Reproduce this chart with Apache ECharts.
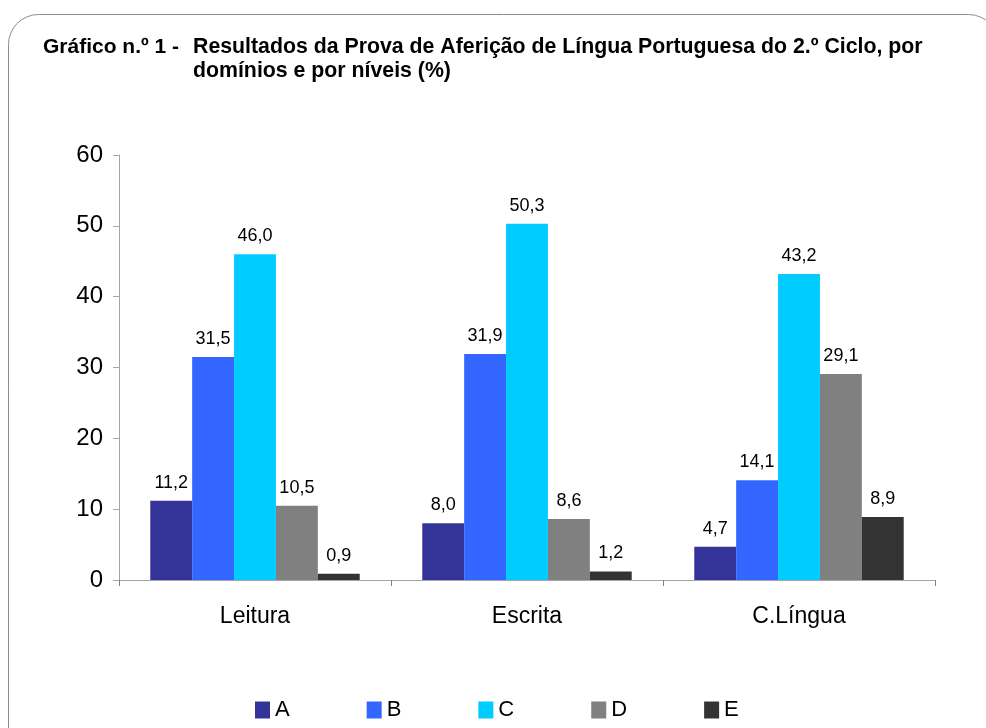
<!DOCTYPE html>
<html>
<head>
<meta charset="utf-8">
<script src="https://cdn.jsdelivr.net/npm/echarts@6/dist/echarts.min.js"></script>
<style>
  html, body { margin: 0; padding: 0; background: #fff; }
  #container1 { width: 986px; height: 728px; }
</style>
</head>
<body>
<div id="container1"></div>
<script>
var categories = ['Leitura', 'Escrita', 'C.Língua'];
var levels = ['A', 'B', 'C', 'D', 'E'];
var valuesA = [11.2, 8.0, 4.7];
var valuesB = [31.5, 31.9, 14.1];
var valuesC = [46.0, 50.3, 43.2];
var valuesD = [10.5, 8.6, 29.1];
var valuesE = [0.9, 1.2, 8.9];
var colors = ['#333399', '#3366FF', '#00CCFF', '#808080', '#333333'];

var dom = document.getElementById("container1");
var myChart = echarts.init(dom);
var option = null;

function makeSeries(name, data, color) {
  return {
    name: name,
    type: 'bar',
    data: data,
    barGap: '0%',
    barCategoryGap: '23%',
    itemStyle: { color: color },
    label: {
      show: true,
      position: 'top',
      distance: 9,
      color: '#000',
      fontSize: 18,
      fontFamily: 'Liberation Sans, Arial',
      formatter: function (p) { return p.value.toFixed(1).replace('.', ','); }
    }
  };
}

option = {
  animation: false,
  graphic: [{
    type: 'rect',
    shape: { x: 8.5, y: 14.5, width: 990, height: 760, r: 30 },
    style: { fill: 'none', stroke: '#8c8c8c', lineWidth: 1 }
  }],
  title: [{
    text: 'Gráfico n.º 1 -',
    left: 38, top: 30,
    textStyle: { fontSize: 21, fontWeight: 'bold', color: '#000', lineHeight: 24, fontFamily: 'Liberation Sans, Arial' }
  }, {
    text: 'Resultados da Prova de Aferição de Língua Portuguesa do 2.º Ciclo, por\ndomínios e por níveis (%)',
    left: 188, top: 30,
    textStyle: { fontSize: 21.3, fontWeight: 'bold', color: '#000', lineHeight: 24, fontFamily: 'Liberation Sans, Arial' }
  }],
  legend: {
    data: levels,
    bottom: 2,
    left: 250,
    itemWidth: 15,
    itemHeight: 17,
    itemGap: 77,
    icon: 'rect',
    textStyle: { fontSize: 22, color: '#000', fontFamily: 'Liberation Sans, Arial' }
  },
  grid: { left: 119, right: 51, top: 155, bottom: 148 },
  xAxis: {
    type: 'category',
    data: categories,
    axisLine: { lineStyle: { color: '#a6a6a6' } },
    axisTick: { show: true, length: 6, lineStyle: { color: '#808080' } },
    axisLabel: { fontSize: 23, color: '#000', margin: 25, fontFamily: 'Liberation Sans, Arial' }
  },
  yAxis: {
    type: 'value',
    min: 0, max: 60, interval: 10,
    axisLine: { show: true, lineStyle: { color: '#a6a6a6' } },
    axisTick: { show: true, length: 6, lineStyle: { color: '#a6a6a6' } },
    splitLine: { show: false },
    axisLabel: { fontSize: 24, color: '#000', margin: 16, fontFamily: 'Liberation Sans, Arial' }
  },
  series: [
    makeSeries('A', valuesA, colors[0]),
    makeSeries('B', valuesB, colors[1]),
    makeSeries('C', valuesC, colors[2]),
    makeSeries('D', valuesD, colors[3]),
    makeSeries('E', valuesE, colors[4])
  ]
};
if (option && typeof option === "object") {
  myChart.setOption(option, true);
}
window.addEventListener("resize", () => {
  myChart.resize();
});
</script>
</body>
</html>
